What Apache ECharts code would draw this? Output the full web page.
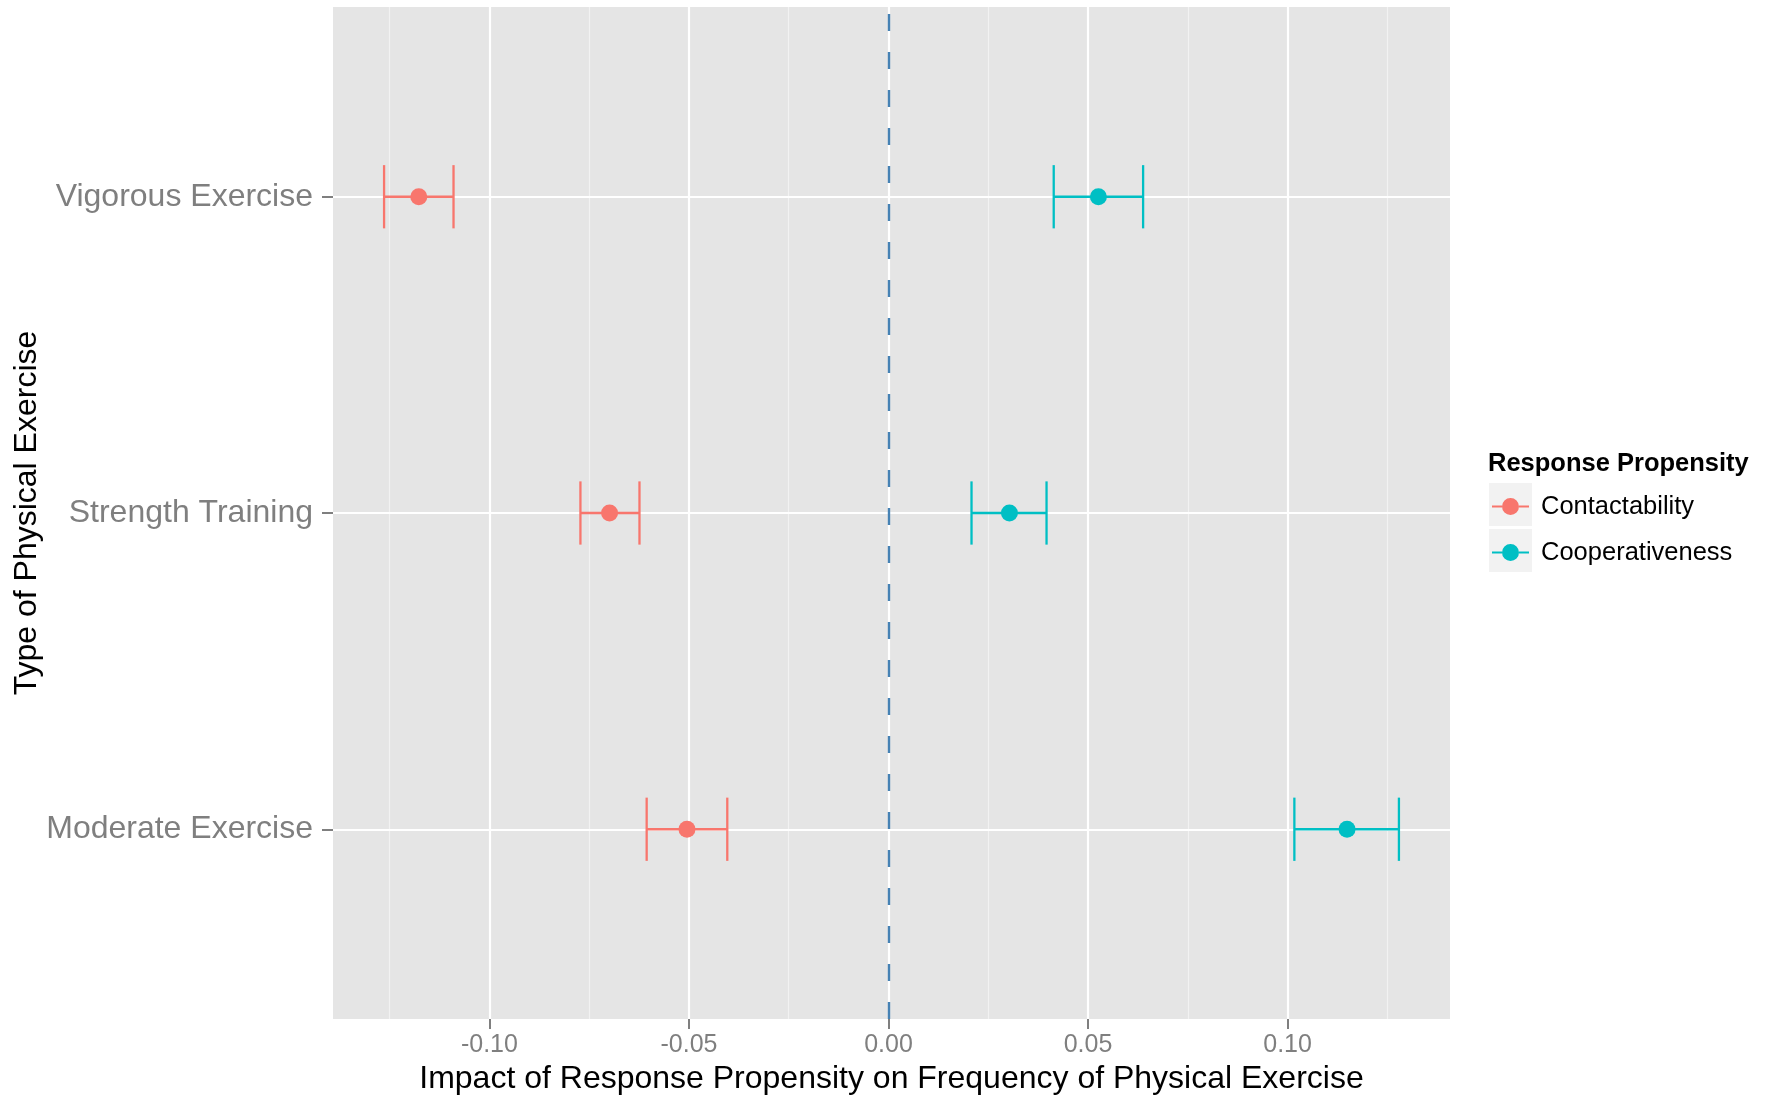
<!DOCTYPE html>
<html>
<head>
<meta charset="utf-8">
<script src="https://cdn.jsdelivr.net/npm/echarts@6/dist/echarts.min.js"></script>
<style>
  html, body { margin: 0; padding: 0; background: #ffffff; }
  #chart { width: 1771px; height: 1097px; }
</style>
</head>
<body>
<div id="chart"></div>
<script>
// Exercise types, listed bottom to top (positions 1, 2, 3 on the y scale)
const categories = ['Moderate Exercise', 'Strength Training', 'Vigorous Exercise'];
const groups = ['Contactability', 'Cooperativeness'];

// Estimates and 95% interval bounds, one entry per exercise type
const contactEst  = [-0.0505, -0.0699, -0.1177];
const contactLow  = [-0.0606, -0.0772, -0.1264];
const contactHigh = [-0.0404, -0.0624, -0.1090];

const coopEst  = [0.1149, 0.0303, 0.0526];
const coopLow  = [0.1017, 0.0208, 0.0414];
const coopHigh = [0.1279, 0.0396, 0.0638];

// Axis breaks
const xTicks = [-0.10, -0.05, 0.00, 0.05, 0.10];
const xMinorTicks = [-0.125, -0.075, -0.025, 0.025, 0.075, 0.125];
const yTicks = [1, 2, 3];
const refLine = [0];

const COLORS = { Contactability: '#F8766D', Cooperativeness: '#00BFC4' };
const FONT = '"Liberation Sans", Arial, Helvetica, sans-serif';
const CAP_HALF = 0.1;   // error-bar cap half height, in category units
const AXIS_GREY = '#7F7F7F';

function pointsOf(est) {
  return est.map((v, i) => [v, i + 1]);
}
function barsOf(low, high) {
  return low.map((v, i) => [i + 1, v, high[i]]);
}

function errorBar(color) {
  return function (params, api) {
    const y = api.value(0);
    const a = api.coord([api.value(1), y]);
    const b = api.coord([api.value(2), y]);
    const top = api.coord([api.value(1), y + CAP_HALF])[1];
    const bot = api.coord([api.value(1), y - CAP_HALF])[1];
    const style = { stroke: color, lineWidth: 2.3, fill: null };
    return {
      type: 'group',
      children: [
        { type: 'line', shape: { x1: a[0], y1: a[1], x2: b[0], y2: b[1] }, style },
        { type: 'line', shape: { x1: a[0], y1: top, x2: a[0], y2: bot }, style },
        { type: 'line', shape: { x1: b[0], y1: top, x2: b[0], y2: bot }, style }
      ]
    };
  };
}

// Reference lines across the panel, drawn beneath the data marks
function panelLines(values, axis, lineStyle, z) {
  return {
    type: 'line',
    data: [],
    silent: true,
    z: z,
    markLine: {
      silent: true,
      z: z,
      precision: 6,
      symbol: ['none', 'none'],
      label: { show: false },
      animation: false,
      emphasis: { disabled: true },
      lineStyle: lineStyle,
      data: values.map(v => ({ [axis]: v }))
    }
  };
}

const legendIcon = 'path://M0 7.4H10V9.6H0Z M27 7.4H37V9.6H27Z M10 8.5A8.5 8.5 0 1 1 27 8.5A8.5 8.5 0 1 1 10 8.5Z';

const chart = echarts.init(document.getElementById('chart'), null, { renderer: 'canvas' });

const option = {
  animation: false,
  backgroundColor: '#ffffff',
  textStyle: { fontFamily: FONT },
  title: {
    text: 'Response Propensity',
    left: 1488,
    top: 451,
    padding: 0,
    textStyle: { fontFamily: FONT, fontSize: 25.5, fontWeight: 'bold', color: '#000000' }
  },
  graphic: [
    { type: 'rect', left: 1489, top: 483, shape: { width: 43, height: 43 }, style: { fill: '#F2F2F2' }, silent: true },
    { type: 'rect', left: 1489, top: 529, shape: { width: 43, height: 43 }, style: { fill: '#F2F2F2' }, silent: true }
  ],
  legend: {
    orient: 'vertical',
    left: 1492,
    top: 492,
    padding: 0,
    itemWidth: 37,
    itemHeight: 17,
    itemGap: 17,
    selectedMode: false,
    icon: legendIcon,
    textStyle: { fontFamily: FONT, fontSize: 25.5, color: '#000000', lineHeight: 29, padding: [0, 0, 0, 7] },
    data: groups.map(g => ({ name: g, icon: legendIcon, itemStyle: { color: COLORS[g] } }))
  },
  grid: {
    left: 333,
    top: 7,
    width: 1117,
    height: 1012,
    outerBoundsMode: 'none',
    containLabel: false,
    show: true,
    backgroundColor: '#E5E5E5',
    borderWidth: 0
  },
  xAxis: {
    type: 'value',
    min: -0.1392,
    max: 0.1407,
    axisLine: { show: true, onZero: false, lineStyle: { color: AXIS_GREY, opacity: 0 } },
    splitLine: { show: false },
    axisTick: { show: true, customValues: xTicks, length: 10, lineStyle: { color: AXIS_GREY, width: 2, opacity: 1 } },
    axisLabel: {
      customValues: xTicks,
      formatter: v => Number(v).toFixed(2),
      fontFamily: FONT, fontSize: 25, color: AXIS_GREY, margin: 14
    },
    name: 'Impact of Response Propensity on Frequency of Physical Exercise',
    nameLocation: 'middle',
    nameGap: 44,
    nameTextStyle: { fontFamily: FONT, fontSize: 32, color: '#000000' }
  },
  yAxis: {
    type: 'value',
    min: 0.4,
    max: 3.6,
    axisLine: { show: true, onZero: false, lineStyle: { color: AXIS_GREY, opacity: 0 } },
    splitLine: { show: false },
    axisTick: { show: true, customValues: yTicks, length: 11, lineStyle: { color: AXIS_GREY, width: 2, opacity: 1 } },
    axisLabel: {
      customValues: yTicks,
      formatter: v => categories[Math.round(v) - 1] || '',
      fontFamily: FONT, fontSize: 32, color: AXIS_GREY, margin: 20
    },
    name: 'Type of Physical Exercise',
    nameLocation: 'middle',
    nameRotate: 90,
    nameMoveOverlap: false,
    nameGap: 290,
    nameTextStyle: { fontFamily: FONT, fontSize: 32, color: '#000000' }
  },
  series: [
    panelLines(xMinorTicks, 'xAxis', { color: '#F2F2F2', width: 1.2, type: 'solid' }, 1),
    panelLines(xTicks, 'xAxis', { color: '#FFFFFF', width: 2.2, type: 'solid' }, 2),
    panelLines(yTicks, 'yAxis', { color: '#FFFFFF', width: 2.2, type: 'solid' }, 2),
    panelLines(refLine, 'xAxis', { color: '#4682B4', width: 2.4, type: [17, 21] }, 3),
    {
      name: groups[0],
      type: 'custom',
      z: 4,
      itemStyle: { color: COLORS.Contactability },
      renderItem: errorBar(COLORS.Contactability),
      encode: { x: [1, 2], y: 0 },
      data: barsOf(contactLow, contactHigh)
    },
    {
      name: groups[1],
      type: 'custom',
      z: 4,
      itemStyle: { color: COLORS.Cooperativeness },
      renderItem: errorBar(COLORS.Cooperativeness),
      encode: { x: [1, 2], y: 0 },
      data: barsOf(coopLow, coopHigh)
    },
    {
      name: groups[0],
      type: 'scatter',
      z: 5,
      symbol: 'circle',
      symbolSize: 17,
      itemStyle: { color: COLORS.Contactability, opacity: 1 },
      data: pointsOf(contactEst)
    },
    {
      name: groups[1],
      type: 'scatter',
      z: 5,
      symbol: 'circle',
      symbolSize: 17,
      itemStyle: { color: COLORS.Cooperativeness, opacity: 1 },
      data: pointsOf(coopEst)
    }
  ]
};

chart.setOption(option);
</script>
</body>
</html>
